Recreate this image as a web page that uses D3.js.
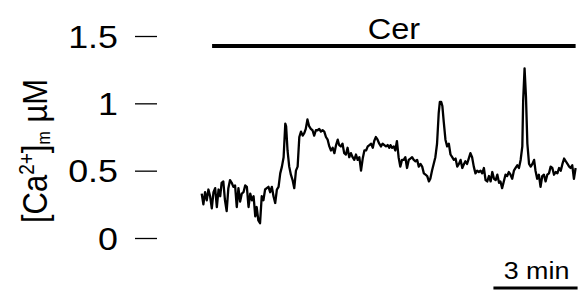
<!DOCTYPE html>
<html>
<head>
<meta charset="utf-8">
<script src="https://cdn.jsdelivr.net/npm/d3@7"></script>
<style>
  body { margin: 0; background: #fff; }
  text { font-family: "Liberation Sans", Arial, sans-serif; fill: #000; }
</style>
</head>
<body>
<script>
// trace: time in minutes, [Ca2+]m in uM
const times = [
  0.00, 0.06, 0.12, 0.18, 0.24, 0.30, 0.36, 0.42, 0.48, 0.54, 0.60, 0.66, 0.71, 0.77, 0.83, 0.89,
  0.95, 1.01, 1.07, 1.13, 1.19, 1.25, 1.31, 1.37, 1.43, 1.49, 1.55, 1.61, 1.67, 1.73, 1.79, 1.85,
  1.91, 1.96, 2.02, 2.08, 2.14, 2.20, 2.26, 2.32, 2.38, 2.44, 2.50, 2.56, 2.62, 2.68, 2.74, 2.80,
  2.86, 2.92, 2.98, 3.01, 3.06, 3.12, 3.18, 3.24, 3.30, 3.36, 3.42, 3.48, 3.54, 3.60, 3.66, 3.71,
  3.77, 3.83, 3.89, 3.95, 4.01, 4.07, 4.13, 4.19, 4.25, 4.31, 4.37, 4.43, 4.49, 4.55, 4.61, 4.67,
  4.73, 4.79, 4.85, 4.90, 4.96, 5.02, 5.08, 5.14, 5.20, 5.26, 5.32, 5.38, 5.44, 5.50, 5.56, 5.62,
  5.68, 5.74, 5.80, 5.86, 5.92, 5.98, 6.04, 6.10, 6.15, 6.21, 6.27, 6.33, 6.39, 6.45, 6.51, 6.57,
  6.63, 6.69, 6.73, 6.79, 6.85, 6.90, 6.96, 7.02, 7.08, 7.14, 7.20, 7.26, 7.32, 7.38, 7.44, 7.50,
  7.56, 7.62, 7.68, 7.74, 7.80, 7.86, 7.92, 7.98, 8.04, 8.10, 8.15, 8.21, 8.27, 8.33, 8.39, 8.45,
  8.49, 8.54, 8.58, 8.63, 8.69, 8.75, 8.81, 8.87, 8.93, 8.99, 9.05, 9.11, 9.17, 9.23, 9.29, 9.35,
  9.40, 9.46, 9.52, 9.58, 9.64, 9.70, 9.76, 9.82, 9.88, 9.94, 10.00, 10.06, 10.12, 10.18, 10.24, 10.30,
  10.36, 10.42, 10.48, 10.54, 10.60, 10.65, 10.71, 10.77, 10.83, 10.89, 10.95, 11.01, 11.07, 11.13, 11.19, 11.25,
  11.31, 11.37, 11.43, 11.46, 11.51, 11.56, 11.61, 11.67, 11.73, 11.79, 11.85, 11.90, 11.96, 12.02, 12.08, 12.14,
  12.20, 12.26, 12.32, 12.38, 12.44, 12.50, 12.56, 12.62, 12.68, 12.74, 12.80, 12.86, 12.92, 12.98, 13.04, 13.10,
  13.15, 13.21, 13.27, 13.33
];
const calcium = [
  0.33, 0.25, 0.34, 0.28, 0.36, 0.31, 0.22, 0.34, 0.37, 0.23, 0.36, 0.31, 0.41, 0.42, 0.28, 0.20,
  0.37, 0.43, 0.41, 0.38, 0.39, 0.23, 0.37, 0.27, 0.33, 0.34, 0.39, 0.38, 0.23, 0.33, 0.28, 0.31,
  0.16, 0.23, 0.13, 0.11, 0.31, 0.28, 0.36, 0.37, 0.38, 0.34, 0.38, 0.31, 0.26, 0.36, 0.38, 0.48,
  0.53, 0.60, 0.85, 0.83, 0.65, 0.53, 0.47, 0.43, 0.37, 0.50, 0.53, 0.75, 0.79, 0.76, 0.78, 0.81,
  0.88, 0.83, 0.81, 0.80, 0.76, 0.80, 0.80, 0.81, 0.79, 0.80, 0.79, 0.75, 0.73, 0.68, 0.65, 0.67,
  0.63, 0.69, 0.73, 0.69, 0.68, 0.70, 0.63, 0.62, 0.67, 0.60, 0.63, 0.60, 0.58, 0.62, 0.58, 0.60,
  0.50, 0.59, 0.65, 0.65, 0.68, 0.69, 0.70, 0.67, 0.72, 0.75, 0.73, 0.70, 0.68, 0.70, 0.69, 0.68,
  0.69, 0.67, 0.69, 0.67, 0.68, 0.65, 0.72, 0.60, 0.53, 0.58, 0.58, 0.60, 0.52, 0.58, 0.59, 0.60,
  0.58, 0.57, 0.58, 0.53, 0.55, 0.53, 0.48, 0.47, 0.46, 0.42, 0.44, 0.50, 0.55, 0.60, 0.70, 0.93,
  1.01, 1.01, 0.98, 0.86, 0.73, 0.68, 0.70, 0.62, 0.60, 0.58, 0.59, 0.53, 0.55, 0.58, 0.52, 0.55,
  0.57, 0.55, 0.59, 0.63, 0.60, 0.53, 0.48, 0.50, 0.49, 0.50, 0.48, 0.52, 0.43, 0.42, 0.46, 0.42,
  0.49, 0.44, 0.43, 0.47, 0.41, 0.42, 0.37, 0.42, 0.47, 0.46, 0.49, 0.47, 0.44, 0.50, 0.52, 0.54,
  0.52, 0.58, 0.68, 1.02, 1.26, 1.05, 0.70, 0.55, 0.53, 0.55, 0.58, 0.50, 0.44, 0.47, 0.38, 0.46,
  0.47, 0.42, 0.47, 0.48, 0.53, 0.52, 0.47, 0.49, 0.48, 0.52, 0.50, 0.55, 0.59, 0.57, 0.55, 0.53,
  0.52, 0.54, 0.44, 0.52
];
const yTicks = [0, 0.5, 1, 1.5];
const stimLabel = "Cer";
const stimStart = 0.37, stimEnd = 13.33;   // minutes
const barLabel = "3 min";
const barStart = 10.40, barLength = 3;     // minutes

const WIDTH = 582, HEIGHT = 291;
const STRETCH = 1.12; // text in the figure is drawn a little wide

const svg = d3.select("body").append("svg")
    .attr("width", WIDTH)
    .attr("height", HEIGHT);

const x = d3.scaleLinear().domain([0, 13.333]).range([201.7, 575.7]);
const y = d3.scaleLinear().domain([0, 1.5]).range([238, 36]);

// y axis: short ticks, no spine
const yAxis = d3.axisLeft(y).tickValues(yTicks).tickSize(22).tickPadding(17)
    .tickFormat(d3.format(""));
const yAxisGroup = svg.append("g").attr("transform", "translate(157,0)").call(yAxis);
yAxisGroup.select(".domain").remove();
yAxisGroup.selectAll(".tick line").attr("stroke", "#000").attr("stroke-width", 1.3);
yAxisGroup.selectAll(".tick text")
    .attr("x", null).attr("dy", null)
    .attr("dominant-baseline", "central")
    .attr("transform", "translate(-39,0) scale(" + STRETCH + ",1)")
    .style("font-size", "32px")
    .style("font-family", "'Liberation Sans', Arial, sans-serif")
    .attr("fill", "#000");

// y label
const yLabel = svg.append("text")
    .attr("transform", "translate(47,151) scale(" + STRETCH + ",1) rotate(-90)")
    .attr("text-anchor", "middle")
    .style("font-size", "31px");
yLabel.append("tspan").text("[Ca");
yLabel.append("tspan").attr("dy", -12).style("font-size", "19px").text("2+");
yLabel.append("tspan").attr("dy", 12).text("]");
yLabel.append("tspan").attr("dy", 3).style("font-size", "16px").text("m");
yLabel.append("tspan").attr("dy", -3).text(" \u00B5M");

// stimulus bar
svg.append("line")
    .attr("x1", x(stimStart)).attr("x2", x(stimEnd))
    .attr("y1", 46).attr("y2", 46)
    .attr("stroke", "#000").attr("stroke-width", 4);
svg.append("text")
    .attr("transform", "translate(" + ((x(stimStart) + x(stimEnd)) / 2) + ",39) scale(" + STRETCH + ",1)")
    .attr("text-anchor", "middle")
    .style("font-size", "29px")
    .text(stimLabel);

// trace
const trace = times.map((t, i) => ({t: t, v: calcium[i]}));
const line = d3.line().x(d => x(d.t)).y(d => y(d.v));
svg.append("path")
    .datum(trace)
    .attr("fill", "none")
    .attr("stroke", "#000")
    .attr("stroke-width", 2.3)
    .attr("stroke-linejoin", "round")
    .attr("d", line);

// time scale bar
svg.append("line")
    .attr("x1", x(barStart)).attr("x2", x(barStart + barLength))
    .attr("y1", 288).attr("y2", 288)
    .attr("stroke", "#000").attr("stroke-width", 3);
svg.append("text")
    .attr("transform", "translate(" + ((x(barStart) + x(barStart + barLength)) / 2 + 1) + ",279) scale(" + STRETCH + ",1)")
    .attr("text-anchor", "middle")
    .style("font-size", "24px")
    .text(barLabel);
</script>
</body>
</html>
